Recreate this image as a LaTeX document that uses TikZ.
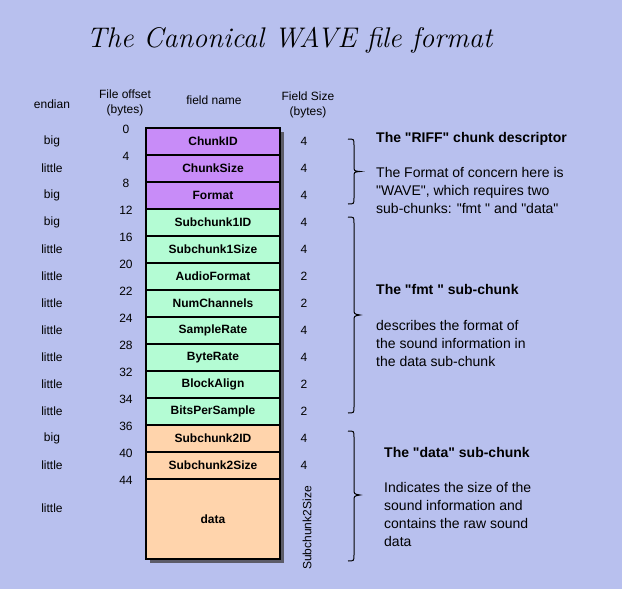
\documentclass[tikz,border=0pt]{standalone}
\usepackage{fontspec}
\setmainfont{Liberation Sans}[Ligatures=TeXOff]
\usetikzlibrary{calc}

\definecolor{bgblue}{HTML}{B8C0EE}
\definecolor{riffcol}{HTML}{C88CF8}
\definecolor{fmtcol}{HTML}{B4FCD4}
\definecolor{datacol}{HTML}{FFD4AC}
\definecolor{shadowcol}{HTML}{5C5C68}

\tikzset{
  field/.style={draw=black, line width=1.5pt, minimum width=134pt, minimum height=27pt,
    inner sep=0pt, font=\fontsize{12}{14}\selectfont\bfseries},
  lbl/.style={inner sep=0pt, font=\fontsize{12}{14}\selectfont},
  hdr/.style={inner sep=0pt, align=center, font=\fontsize{12}{15}\selectfont},
  note/.style={inner sep=0pt, anchor=north west, align=left,
    font=\fontsize{14}{17.8}\selectfont},
  bracepath/.style={draw=black, line width=1pt},
}

\begin{document}
\begin{tikzpicture}[x=1pt, y=-1pt]
  % page and background
  \fill[bgblue] (0,0) rectangle (622,589);
  \useasboundingbox (0,0) rectangle (622,589);

  % title
  \node[inner sep=0pt, anchor=base, font=\fontfamily{lmr}\fontsize{28.4}{32}\selectfont\itshape]
    (title) at (289.5,47) {The Canonical WAVE file format};

  % column headers
  \node[hdr] (hEndian) at (52,104) {endian};
  \node[hdr] (hOffset) at (125,102.5) {File offset\\(bytes)};
  \node[hdr] (hName)   at (214,100) {field name};
  \node[hdr] (hSize)   at (308,104.5) {Field Size\\(bytes)};

  % drop shadow behind the stack of fields
  \fill[shadowcol] (150,132) rectangle (284,563);

  % the fields, one row each
  \foreach \i/\lab/\col/\endi/\off/\sz in {
      1/ChunkID/riffcol/big/0/4,
      2/ChunkSize/riffcol/little/4/4,
      3/Format/riffcol/big/8/4,
      4/Subchunk1ID/fmtcol/big/12/4,
      5/Subchunk1Size/fmtcol/little/16/4,
      6/AudioFormat/fmtcol/little/20/2,
      7/NumChannels/fmtcol/little/22/2,
      8/SampleRate/fmtcol/little/24/4,
      9/ByteRate/fmtcol/little/28/4,
      10/BlockAlign/fmtcol/little/32/2,
      11/BitsPerSample/fmtcol/little/34/2,
      12/Subchunk2ID/datacol/big/36/4,
      13/Subchunk2Size/datacol/little/40/4} {
    \pgfmathsetmacro{\top}{128+27*(\i-1)}
    \node[field, fill=\col] (f\i) at (213,\top+13.5) {\lab};
    \node[lbl] (e\i) at (52,\top+13.5) {\endi};
    \node[lbl] (o\i) at (126,\top+1) {\off};
    \node[lbl] (s\i) at (304,\top+13.5) {\sz};
  }
  \node[field, fill=datacol, minimum height=80pt] (f14) at (213,519) {data};
  \node[lbl] (e14) at (52,508) {little};
  \node[lbl] (o14) at (126,480) {44};
  \node[lbl, rotate=90] (s14) at (307,528) {Subchunk2Size};

  % braces grouping the chunks
  \draw[bracepath] (348,139) .. controls (354,139) .. (354,145) -- (354,166)
    .. controls (354,171) .. (360,171.5) .. controls (354,172) .. (354,177) -- (354,198)
    .. controls (354,204) .. (348,204);
  \draw[bracepath] (348,217) .. controls (354,217) .. (354,223) -- (354,309)
    .. controls (354,314) .. (360,315) .. controls (354,316) .. (354,321) -- (354,407)
    .. controls (354,413) .. (348,413);
  \draw[bracepath] (348,431) .. controls (354,431) .. (354,437) -- (354,489)
    .. controls (354,494) .. (360,495) .. controls (354,496) .. (354,501) -- (354,555)
    .. controls (354,561) .. (348,561);

  % descriptions
  \node[note] (tRiff) at (376,131.8) {\textbf{The "RIFF" chunk descriptor}\\[17.8pt]
    The Format of concern here is\\"WAVE", which requires two\\sub-chunks: "fmt " and "data"};
  \node[note] (tFmt) at (376,283.8) {\textbf{The "fmt " sub-chunk}\\[18.8pt]
    describes the format of\\the sound information in\\the data sub-chunk};
  \node[note] (tData) at (384,446.8) {\textbf{The "data" sub-chunk}\\[17.8pt]
    Indicates the size of the\\sound information and\\contains the raw sound\\data};
\end{tikzpicture}
\end{document}
